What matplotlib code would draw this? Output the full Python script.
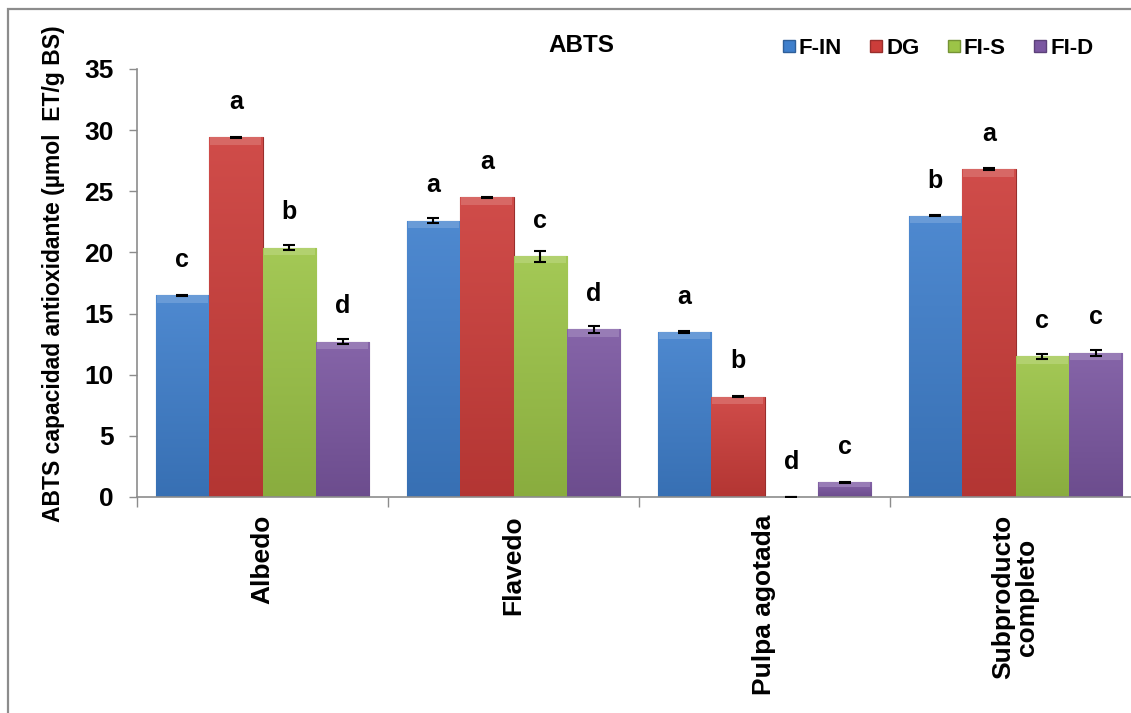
import matplotlib.pyplot as plt
import numpy as np
from matplotlib.lines import Line2D
from matplotlib.patches import Rectangle
from matplotlib.colors import to_rgb, LinearSegmentedColormap

plt.rcParams['font.family'] = ['Liberation Sans', 'DejaVu Sans']
plt.rcParams['font.weight'] = 'bold'

# datos: capacidad antioxidante ABTS por fraccion y tratamiento
categorias = ['Albedo', 'Flavedo', 'Pulpa agotada', 'Subproducto\ncompleto']
tratamientos = ['F-IN', 'DG', 'FI-S', 'FI-D']
f_in = [16.5, 22.6, 13.5, 23.0]
dg = [29.4, 24.5, 8.2, 26.8]
fi_s = [20.4, 19.7, 0.0, 11.5]
fi_d = [12.7, 13.7, 1.2, 11.8]
err_f_in = [0.05, 0.2, 0.05, 0.05]
err_dg = [0.05, 0.05, 0.05, 0.1]
err_fi_s = [0.2, 0.45, 0.0, 0.2]
err_fi_d = [0.2, 0.25, 0.05, 0.25]
letras_f_in = ['c', 'a', 'a', 'b']
letras_dg = ['a', 'a', 'b', 'a']
letras_fi_s = ['b', 'c', 'd', 'c']
letras_fi_d = ['d', 'd', 'c', 'c']

colores = ['#3f7fcc', '#cc3d3a', '#9cc447', '#7b57a1']

series = [f_in, dg, fi_s, fi_d]
errores = [err_f_in, err_dg, err_fi_s, err_fi_d]
letras = [letras_f_in, letras_dg, letras_fi_s, letras_fi_d]


def mezcla(col, f):
    # f > 0 aclara hacia blanco, f < 0 oscurece
    c = np.array(to_rgb(col))
    return tuple(c + (1 - c) * f) if f > 0 else tuple(c * (1 + f))


W, H = 1131, 713
fig = plt.figure(figsize=(W / 100, H / 100), dpi=100)
ax = fig.add_axes([137 / W, 1 - 497 / H, 1004 / W, 428 / H])

# marco exterior del grafico
fig.patches.append(Rectangle((8 / W, -0.05), 1.2, 1.05 - 9 / H, transform=fig.transFigure,
                             fill=False, edgecolor='#8c8c8c', lw=1.6))

x = np.arange(len(categorias))
ancho = 0.213
grad = np.linspace(0, 1, 256).reshape(-1, 1)
for i, (vals, errs, lets, col) in enumerate(zip(series, errores, letras, colores)):
    pos = x + (i - 1.5) * ancho
    barras = ax.bar(pos, vals, ancho, color=col, edgecolor=mezcla(col, -0.25),
                    linewidth=0.8, zorder=2)
    cmap = LinearSegmentedColormap.from_list('g', [mezcla(col, -0.12), mezcla(col, 0.08)])
    for b, v in zip(barras, vals):
        if v <= 0:
            continue
        im = ax.imshow(grad, cmap=cmap, origin='lower', aspect='auto', zorder=2.5,
                       extent=[b.get_x(), b.get_x() + ancho, 0, v])
        im.set_clip_path(b)
    # bisel claro en la parte superior de cada barra
    bisel = [min(0.6, v * 0.35) for v in vals]
    ax.bar(pos, bisel, ancho * 0.96, bottom=np.array(vals) - np.array(bisel),
           color=mezcla(col, 0.22), linewidth=0, zorder=3)
    ax.errorbar(pos, vals, yerr=errs, fmt='none', ecolor='black', elinewidth=1.5,
                capsize=4, capthick=1.5, zorder=4)
    for p, v, l in zip(pos, vals, lets):
        ax.text(p, v + 1.9, l, ha='center', va='bottom', fontsize=18, fontweight='bold')

ax.set_ylim(0, 35)
ax.set_xlim(-0.5, 3.5)
ax.set_yticks(np.arange(0, 36, 5))
ax.tick_params(axis='y', direction='out', length=6, width=1, color='#8c8c8c',
               pad=11, labelsize=19)
ax.set_xticks(x)
ax.set_xticklabels(categorias, rotation=90, fontsize=19, fontweight='bold',
                   linespacing=1.0, ha='center', va='top')
ax.tick_params(axis='x', length=0, pad=13)
ax.set_xticks(np.arange(-0.5, 4.0, 1.0), minor=True)
ax.tick_params(axis='x', which='minor', length=7, width=1, color='#8c8c8c')
for lab in ax.get_yticklabels():
    lab.set_fontweight('bold')

for s in ['top', 'right']:
    ax.spines[s].set_visible(False)
for s in ['left', 'bottom']:
    ax.spines[s].set_color('#8c8c8c')
    ax.spines[s].set_linewidth(1.2)

fig.text(54 / W, 1 - 274 / H, 'ABTS capacidad antioxidante (µmol  ET/g BS)',
         rotation=90, ha='center', va='center', fontsize=16.5, fontweight='bold')
fig.text(581 / W, 1 - 46 / H, 'ABTS', ha='center', va='center', fontsize=17.5,
         fontweight='bold')

handles = [Line2D([], [], marker='s', linestyle='none', markersize=8,
                  markerfacecolor=c, markeredgecolor=mezcla(c, -0.25))
           for c in colores]
fig.legend(handles, tratamientos, loc='center left', bbox_to_anchor=(763 / W, 1 - 48 / H),
           ncol=4, frameon=False, handlelength=0.5, handletextpad=0.2,
           columnspacing=1.3, prop={'weight': 'bold', 'size': 16})

fig.savefig('out.png', dpi=100)
